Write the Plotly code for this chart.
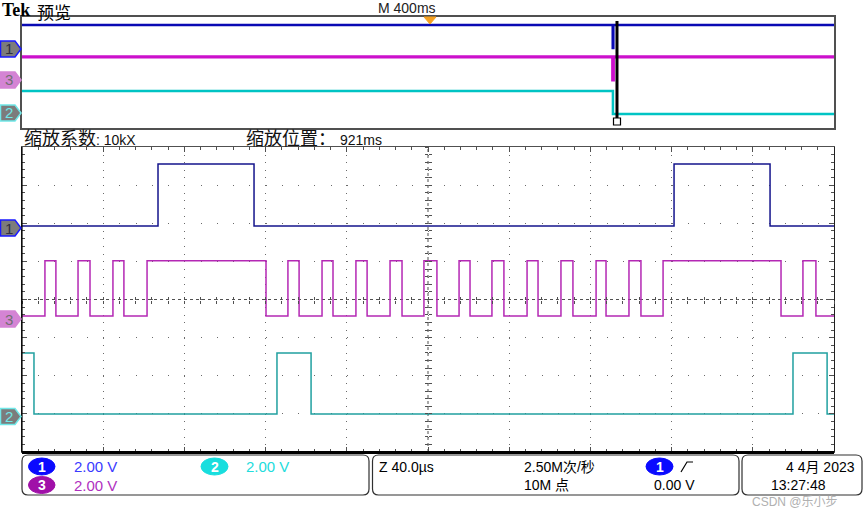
import plotly.graph_objects as go

W, H = 865, 519

# ---------------- data ----------------
# zoom window (main screen): time in µs, 40 µs/div, 10 div
zoom_time_range_us = [-200, 200]
volts_per_div = 2.0

ch1_edges_us = [-133.0, -85.7, 121.2, 168.5]          # starts low
ch1_levels_v = [0.1, 3.35]                              # low, high
ch1_start_high = False
ch1_pos_div = 1.877

ch2_edges_us = [-194.1, -74.4, -57.6, 179.8, 196.6]   # starts high
ch2_levels_v = [0.13, 3.33]
ch2_start_high = True
ch2_pos_div = -3.07

ch3_edges_us = [-188.7, -183.3, -172.4, -166.5, -155.2, -149.8, -138.4, -79.8,
                -69.0, -63.5, -52.2, -46.8, -35.5, -30.0, -18.7, -12.8,
                -2.0, 4.4, 15.3, 20.7, 31.5, 37.4, 48.8, 54.2,
                65.5, 71.4, 82.8, 87.7, 99.0, 104.9, 115.8, 173.9,
                184.7, 191.1]                            # starts low
ch3_levels_v = [0.1, 3.0]
ch3_start_high = False
ch3_pos_div = -0.486

# overview (record): time in ms, 400 ms/div
ov_time_range_ms = [-2010, 1990]
ov_ch1_edges_ms = [900, 903]      # high -> brief low -> high
ov_ch3_edges_ms = [900, 903]
ov_ch2_edges_ms = [901]           # high -> low
ov_levels_v = [0.0, 3.3]
ov_pos_v = {"1": 11.43, "3": 6.86, "2": 2.0}
ov_y_range = [0, 15.86]
zoom_position_ms = 921

ch_colors = {"1": "#14148c", "2": "#20a0a0", "3": "#b428b4"}
ov_colors = {"1": "#0a0ab4", "2": "#00c4c4", "3": "#cc10cc"}


def square(edges, t0, t1, levels, start_high):
    xs, ys = [t0], []
    state = 1 if start_high else 0
    ys.append(levels[state])
    for e in edges:
        xs.append(e); ys.append(levels[state])
        state = 1 - state
        xs.append(e); ys.append(levels[state])
    xs.append(t1); ys.append(levels[state])
    return xs, ys


def px(x):
    return x / W


def py(y):
    return 1 - y / H


fig = go.Figure()

# ---------------- main traces ----------------
for name, edges, lv, sh, pos in [
    ("1", ch1_edges_us, ch1_levels_v, ch1_start_high, ch1_pos_div),
    ("3", ch3_edges_us, ch3_levels_v, ch3_start_high, ch3_pos_div),
    ("2", ch2_edges_us, ch2_levels_v, ch2_start_high, ch2_pos_div),
]:
    xs, ys = square(edges, zoom_time_range_us[0], zoom_time_range_us[1], lv, sh)
    ys = [pos + v / volts_per_div for v in ys]
    fig.add_trace(go.Scatter(x=xs, y=ys, mode="lines", xaxis="x", yaxis="y",
                             line=dict(color=ch_colors[name], width=1.5),
                             hoverinfo="skip", showlegend=False))

# ---------------- overview traces ----------------
for name, edges, sh, wd in [("1", ov_ch1_edges_ms, True, 2.5),
                            ("3", ov_ch3_edges_ms, True, 3.2),
                            ("2", ov_ch2_edges_ms, True, 2.5)]:
    xs, ys = square(edges, ov_time_range_ms[0], ov_time_range_ms[1], ov_levels_v, sh)
    ys = [ov_pos_v[name] + v for v in ys]
    fig.add_trace(go.Scatter(x=xs, y=ys, mode="lines", xaxis="x2", yaxis="y2",
                             line=dict(color=ov_colors[name], width=wd),
                             hoverinfo="skip", showlegend=False))

# dummy traces for centre-cross tick axes
for xa, ya in [("x3", "y"), ("x4", "y"), ("x", "y3"), ("x", "y4")]:
    fig.add_trace(go.Scatter(x=[None], y=[None], xaxis=xa, yaxis=ya,
                             hoverinfo="skip", showlegend=False))

dom_x = [px(22), px(834)]
dom_y = [py(452), py(147)]
dom_y_ov = [py(128), py(17)]
cx_paper = px(428)
cy_paper = py(299.5)

common = dict(showticklabels=False, zeroline=False, fixedrange=True)
fig.update_layout(
    width=W, height=H, margin=dict(l=0, r=0, t=0, b=0),
    paper_bgcolor="white", plot_bgcolor="white", showlegend=False,
    xaxis=dict(domain=dom_x, range=zoom_time_range_us, anchor="y", dtick=40, tick0=0,
               showgrid=True, gridcolor="#6a6a6a", gridwidth=1, griddash="1px,6.62px",
               showline=True, linecolor="#505050", linewidth=1, mirror="ticks",
               ticks="inside", ticklen=5, tickcolor="#505050",
               minor=dict(dtick=8, ticks="inside", ticklen=3, tickcolor="#505050", showgrid=False),
               **common),
    yaxis=dict(domain=dom_y, range=[-4, 4], anchor="x", dtick=1, tick0=0,
               showgrid=True, gridcolor="#6a6a6a", gridwidth=1, griddash="1px,15.24px",
               showline=True, linecolor="#202020", linewidth=1, mirror="ticks",
               ticks="inside", ticklen=5, tickcolor="#505050",
               minor=dict(dtick=0.2, ticks="inside", ticklen=3, tickcolor="#505050", showgrid=False),
               **common),
    xaxis2=dict(domain=dom_x, range=ov_time_range_ms, anchor="y2", showgrid=False,
                showline=True, linecolor="#505050", linewidth=1.5, mirror=True, ticks="", **common),
    yaxis2=dict(domain=dom_y_ov, range=ov_y_range, anchor="x2", showgrid=False,
                showline=True, linecolor="#505050", linewidth=1.5, mirror=True, ticks="", **common),
    xaxis3=dict(overlaying="x", range=zoom_time_range_us, anchor="free", position=cy_paper,
                dtick=8, tick0=0, ticks="outside", ticklen=3, tickcolor="#505050",
                showgrid=False, showline=False, **common),
    xaxis4=dict(overlaying="x", range=zoom_time_range_us, anchor="free", position=cy_paper,
                dtick=8, tick0=0, ticks="inside", ticklen=3, tickcolor="#505050",
                showgrid=False, showline=False, **common),
    yaxis3=dict(overlaying="y", range=[-4, 4], anchor="free", position=cx_paper,
                dtick=0.2, tick0=0, ticks="outside", ticklen=3, tickcolor="#505050",
                showgrid=False, showline=False, **common),
    yaxis4=dict(overlaying="y", range=[-4, 4], anchor="free", position=cx_paper,
                dtick=0.2, tick0=0, ticks="inside", ticklen=3, tickcolor="#505050",
                showgrid=False, showline=False, **common),
)

shapes = []
# centre cross dotted lines
shapes.append(dict(type="line", xref="x", yref="y", x0=zoom_time_range_us[0], x1=zoom_time_range_us[1],
                   y0=0, y1=0, line=dict(color="#505050", width=1, dash="dot"), layer="below"))
shapes.append(dict(type="line", xref="x", yref="y", x0=0, x1=0, y0=-4, y1=4,
                   line=dict(color="#505050", width=1, dash="dot"), layer="below"))
# thick bottom line
shapes.append(dict(type="line", xref="paper", yref="paper", x0=px(22), x1=px(834), y0=py(452.5), y1=py(452.5),
                   line=dict(color="black", width=3)))
# left black border line
shapes.append(dict(type="line", xref="paper", yref="paper", x0=px(22), x1=px(22), y0=py(147), y1=py(452),
                   line=dict(color="black", width=1.2)))

# zoom position indicator in overview
shapes.append(dict(type="line", xref="x2", yref="paper", x0=zoom_position_ms, x1=zoom_position_ms,
                   y0=py(122), y1=py(21), line=dict(color="black", width=3)))
shapes.append(dict(type="rect", xref="paper", yref="paper", x0=px(613.5), x1=px(620.5),
                   y0=py(125), y1=py(118), line=dict(color="black", width=1.2), fillcolor="white"))

# trigger position orange triangle
tx = 430
shapes.append(dict(type="path", xref="paper", yref="paper",
                   path=f"M {px(tx-6)},{py(17)} L {px(tx+6)},{py(17)} L {px(tx)},{py(24)} Z",
                   fillcolor="#f5a020", line=dict(color="#f5a020", width=1)))


def pent(yc, fill, edge):
    x0, x1, x2, h = 0.5, 15, 21, 8
    p = (f"M {px(x0)},{py(yc-h)} L {px(x1)},{py(yc-h)} L {px(x2)},{py(yc)} "
         f"L {px(x1)},{py(yc+h)} L {px(x0)},{py(yc+h)} Z")
    return dict(type="path", xref="paper", yref="paper", path=p, fillcolor=fill,
                line=dict(color=edge, width=1.5))


marker_styles = {"1": ("#7c7c7c", "#1a1aff", "#303040"),
                 "3": ("#d484d4", "#d484d4", "#707070"),
                 "2": ("#7c7c7c", "#70e8e8", "#70e8e8")}
marker_rows = [("1", 49), ("3", 80), ("2", 113), ("1", 228), ("3", 319), ("2", 416.5)]

annotations = []


def ann(x, y, text, size=14, color="black", xanchor="left", family="Liberation Sans, Noto Sans CJK SC"):
    annotations.append(dict(x=px(x), y=py(y), xref="paper", yref="paper", text=text, showarrow=False,
                            xanchor=xanchor, yanchor="middle",
                            font=dict(size=size, color=color, family=family)))


for name, yc in marker_rows:
    fill, edge, tcol = marker_styles[name]
    shapes.append(pent(yc, fill, edge))
    ann(8.5, yc, name, size=15, color=tcol, xanchor="center", family="Liberation Sans")


def rrect(x0, y0, x1, y1, r=6):
    p = (f"M {px(x0+r)},{py(y0)} L {px(x1-r)},{py(y0)} Q {px(x1)},{py(y0)} {px(x1)},{py(y0+r)} "
         f"L {px(x1)},{py(y1-r)} Q {px(x1)},{py(y1)} {px(x1-r)},{py(y1)} "
         f"L {px(x0+r)},{py(y1)} Q {px(x0)},{py(y1)} {px(x0)},{py(y1-r)} "
         f"L {px(x0)},{py(y0+r)} Q {px(x0)},{py(y0)} {px(x0+r)},{py(y0)} Z")
    return dict(type="path", xref="paper", yref="paper", path=p, line=dict(color="#303030", width=1.2))


shapes.append(rrect(22, 455, 369, 495))
shapes.append(rrect(372.5, 455, 739, 495))
shapes.append(rrect(742, 455, 862, 495))


def badge(x0, x1, yc, color, label):
    shapes.append(dict(type="circle", xref="paper", yref="paper", x0=px(x0), x1=px(x1),
                       y0=py(yc + 8.5), y1=py(yc - 8.5), fillcolor=color, line=dict(color=color, width=1)))
    ann((x0 + x1) / 2, yc, f"<b>{label}</b>", size=14, color="white", xanchor="center", family="Liberation Sans")


badge(28.5, 55, 466.5, "#0a0aff", "1")
badge(201, 228, 466.5, "#18dede", "2")
badge(28.5, 55, 485, "#a010a8", "3")
badge(646, 673, 466.5, "#0a0aff", "1")

# trigger slope symbol
shapes.append(dict(type="path", xref="paper", yref="paper",
                   path=f"M {px(681)},{py(472)} L {px(687)},{py(462)} L {px(693)},{py(462)}",
                   line=dict(color="black", width=1.2)))

fig.update_layout(shapes=shapes)

# ---------------- texts ----------------
ann(0, 10, "<b>Tek</b>", size=18, family="Liberation Serif")
ann(35, 11.5, "预览", size=17, family="Noto Sans CJK SC")
ann(407, 8, "M 400ms", size=14, color="#222222", xanchor="center")
ann(22, 139, "<span style='font-size:18px'>缩放系数</span>: 10kX", size=14, color="#111111")
ann(244, 139, "<span style='font-size:18px'>缩放位置：</span> 921ms", size=14, color="#111111")

ann(72, 466.5, "2.00 V", size=15, color="#3a3aff")
ann(244, 466.5, "2.00 V", size=15, color="#22dcdc")
ann(72, 485, "2.00 V", size=15, color="#b030c0")

ann(377, 466.5, "Z 40.0µs", size=14)
ann(522, 466.5, "2.50M次/秒", size=14)
ann(522, 485, "10M 点", size=14)
ann(652, 485, "0.00 V", size=14)
ann(857, 466.5, "4 4月 2023", size=14, xanchor="right")
ann(769, 485, "13:27:48", size=14)
ann(750, 502, "CSDN @乐小步", size=12, color="#b0b0b0")

fig.update_layout(annotations=annotations)

fig.write_html("out.html", config={"displayModeBar": False},
               post_script="document.body.style.margin='0';document.body.style.overflow='hidden';")
